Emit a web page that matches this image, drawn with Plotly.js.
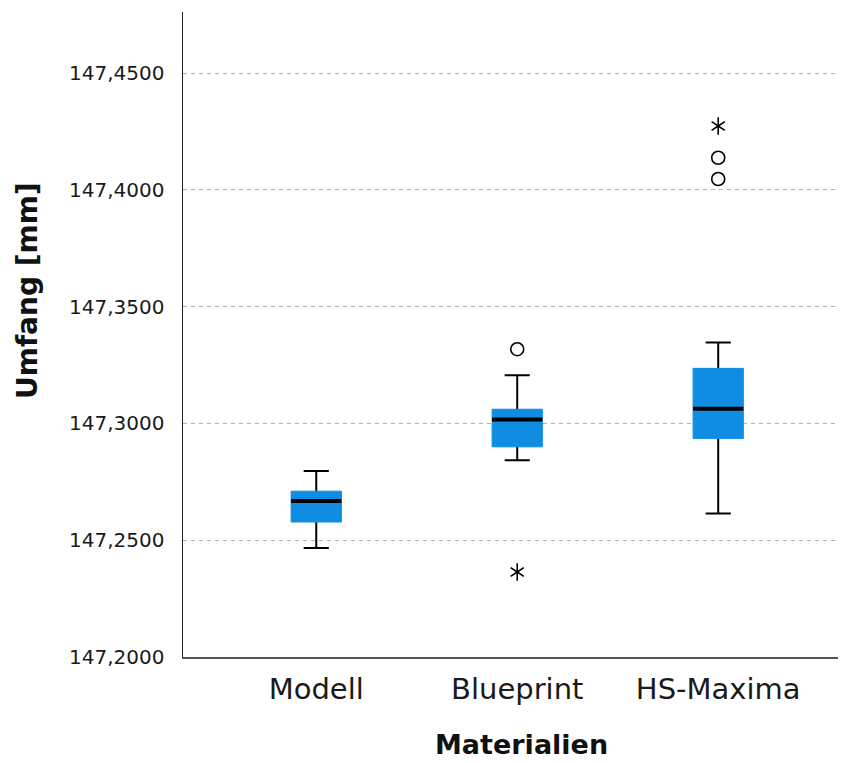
<!DOCTYPE html>
<html>
<head>
<meta charset="utf-8">
<script src="https://cdn.plot.ly/plotly-3.0.1.min.js"></script>
<style>html,body{margin:0;padding:0;background:#fff;}#chart{width:841px;height:763px;}</style>
</head>
<body>
<div id="chart"></div>
<script>
// ---- data ----
const categories = ["Modell", "Blueprint", "HS-Maxima"];
const lowerWhisker = [147.2467, 147.2843, 147.2614];
const q1Values     = [147.2578, 147.2900, 147.2936];
const medianValues = [147.2668, 147.3017, 147.3063];
const q3Values     = [147.2710, 147.3061, 147.3236];
const upperWhisker = [147.2796, 147.3207, 147.3347];

// outliers (circles) and extreme values (stars)
const outlierCats   = ["Blueprint", "HS-Maxima", "HS-Maxima"];
const outlierValues = [147.3318, 147.4138, 147.4047];
const extremeCats   = ["Blueprint", "HS-Maxima"];
const extremeValues = [147.2364, 147.4274];

const yTickVals = [147.20, 147.25, 147.30, 147.35, 147.40, 147.45];
const yTickText = ["147,2000", "147,2500", "147,3000", "147,3500", "147,4000", "147,4500"];

// ---- styles ----
const boxBlue = "#0f8de3";
const boxW = 0.25;

const whiskers = {
  type: "box", x: categories,
  q1: medianValues, median: medianValues, q3: medianValues,
  lowerfence: lowerWhisker, upperfence: upperWhisker,
  width: boxW, whiskerwidth: 0.5,
  line: {color: "#000", width: 2}, fillcolor: "rgba(0,0,0,0)",
  boxpoints: false, hoverinfo: "skip", showlegend: false
};
const boxes = {
  type: "box", x: categories,
  q1: q1Values, median: medianValues, q3: q3Values,
  lowerfence: q1Values, upperfence: q3Values,
  width: boxW, whiskerwidth: 0,
  line: {color: boxBlue, width: 1}, fillcolor: boxBlue,
  boxpoints: false, hoverinfo: "skip", showlegend: false
};
const medians = {
  type: "box", x: categories,
  q1: medianValues, median: medianValues, q3: medianValues,
  lowerfence: medianValues, upperfence: medianValues,
  width: boxW, whiskerwidth: 0,
  line: {color: "#000", width: 4}, fillcolor: "rgba(0,0,0,0)",
  boxpoints: false, hoverinfo: "skip", showlegend: false
};
const outliers = {
  type: "scatter", mode: "markers", x: outlierCats, y: outlierValues,
  marker: {symbol: "circle-open", size: 13, color: "#000", line: {width: 1.6, color: "#000"}},
  hoverinfo: "skip", showlegend: false
};
const starA = {
  type: "scatter", mode: "markers", x: extremeCats, y: extremeValues,
  marker: {symbol: "y-up-open", size: 11, color: "#000", line: {width: 1.6, color: "#000"}},
  hoverinfo: "skip", showlegend: false
};
const starB = {
  type: "scatter", mode: "markers", x: extremeCats, y: extremeValues,
  marker: {symbol: "y-down-open", size: 11, color: "#000", line: {width: 1.6, color: "#000"}},
  hoverinfo: "skip", showlegend: false
};

const layout = {
  width: 841, height: 763,
  margin: {l: 183, r: 3, t: 12, b: 106},
  paper_bgcolor: "#fff", plot_bgcolor: "#fff",
  boxmode: "overlay",
  showlegend: false,
  font: {family: "DejaVu Sans", color: "#1a1a1a"},
  xaxis: {
    type: "category", categoryorder: "array", categoryarray: categories,
    range: [-0.663, 2.596],
    showgrid: false, zeroline: false,
    showline: true, linecolor: "#555", linewidth: 1.5,
    ticks: "", ticklabelstandoff: 6,
    tickfont: {family: "DejaVu Sans", size: 29, color: "#1a1a1a"}
  },
  yaxis: {
    range: [147.2, 147.4762],
    tickvals: yTickVals, ticktext: yTickText,
    showgrid: true, gridcolor: "#b0b0b0", gridwidth: 1, griddash: "4px,4px",
    zeroline: false,
    showline: true, linecolor: "#222", linewidth: 1.5,
    ticks: "", ticklabelstandoff: 13,
    tickfont: {family: "DejaVu Sans", size: 20, color: "#1a1a1a"}
  },
  annotations: [
    {text: "<b>Materialien</b>", xref: "paper", yref: "paper", x: (521 - 183) / 655, y: (657 - 762) / 645,
     xanchor: "center", yanchor: "bottom", showarrow: false,
     font: {family: "DejaVu Sans", size: 27, color: "#111"}},
    {text: "<b>Umfang [mm]</b>", xref: "paper", yref: "paper", x: (27 - 183) / 655, y: (657 - 291) / 645,
     xanchor: "center", yanchor: "middle", textangle: -90, showarrow: false,
     font: {family: "DejaVu Sans", size: 28, color: "#111"}}
  ]
};

Plotly.newPlot("chart", [whiskers, boxes, medians, outliers, starA, starB], layout, {staticPlot: true, displayModeBar: false});
</script>
</body>
</html>
